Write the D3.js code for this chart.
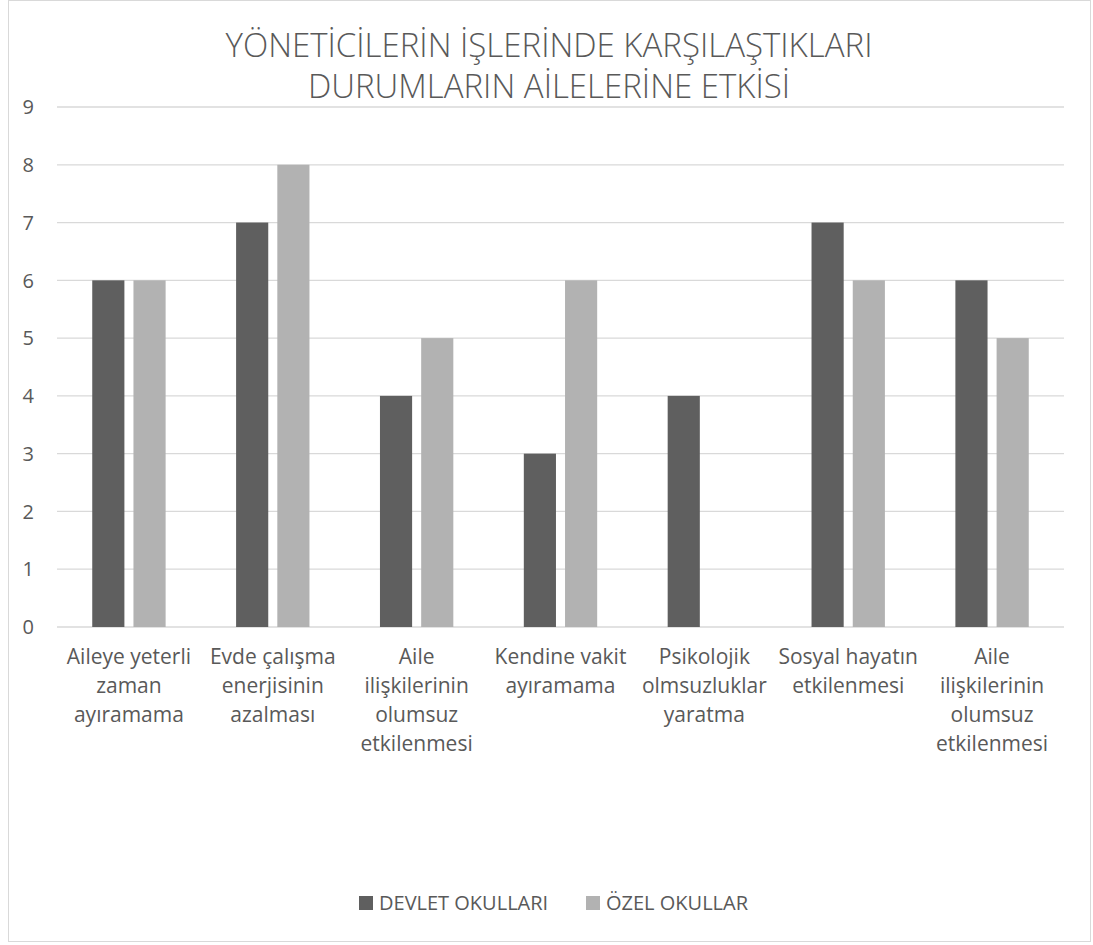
<!DOCTYPE html>
<html><head><meta charset="utf-8">
<script src="https://cdn.jsdelivr.net/npm/d3@7"></script>
<style>body{margin:0;background:#fff;} svg{display:block;font-family:"Open Sans",sans-serif;}</style>
</head><body><svg id="c" width="1093" height="945"></svg>
<script>
const categories = [
  "Aileye yeterli\nzaman\nayıramama",
  "Evde çalışma\nenerjisinin\nazalması",
  "Aile\nilişkilerinin\nolumsuz\netkilenmesi",
  "Kendine vakit\nayıramama",
  "Psikolojik\nolmsuzluklar\nyaratma",
  "Sosyal hayatın\netkilenmesi",
  "Aile\nilişkilerinin\nolumsuz\netkilenmesi"
];
const seriesNames = ["DEVLET OKULLARI", "ÖZEL OKULLAR"];
const devlet = [6, 7, 4, 3, 4, 7, 6];
const ozel = [6, 8, 5, 6, 0, 6, 5];
const yTicks = [0,1,2,3,4,5,6,7,8,9];
const titleLines = ["YÖNETİCİLERİN İŞLERİNDE KARŞILAŞTIKLARI", "DURUMLARIN AİLELERİNE ETKİSİ"];
const colors = ["#5f5f5f", "#b2b2b2"];

(function(){
const svg = d3.select("#c");
svg.append("rect").attr("x",8.5).attr("y",0.5).attr("width",1082).attr("height",941)
  .attr("fill","#fff").attr("stroke","#d9d9d9");

const pL = 57, pR = 1064, pT = 107, pB = 627;
const y = d3.scaleLinear().domain([0,9]).range([pB, pT]);
const x0 = d3.scaleBand().domain(d3.range(categories.length)).range([pL,pR])
  .paddingInner(0.49).paddingOuter(0.245);
const x1 = d3.scaleBand().domain([0,1]).range([0, x0.bandwidth()]).paddingInner(0.22);

svg.append("g").selectAll("line").data(yTicks).join("line")
  .attr("x1",pL).attr("x2",pR).attr("y1",d=>y(d)).attr("y2",d=>y(d))
  .attr("stroke","#d9d9d9").attr("stroke-width",1.3);

svg.append("g").selectAll("text").data(yTicks).join("text")
  .attr("x",34).attr("y",d=>y(d)).attr("dy","0.36em").attr("text-anchor","end")
  .attr("font-size",20).attr("fill","#595959").text(d=>d);

const series = [devlet, ozel];
series.forEach((vals, si) => {
  svg.append("g").selectAll("rect").data(vals).join("rect")
    .attr("x",(d,i)=>x0(i)+x1(si)).attr("width",x1.bandwidth())
    .attr("y",d=>y(d)).attr("height",d=>y(0)-y(d)).attr("fill",colors[si]);
});

categories.forEach((c,i) => {
  const t = svg.append("text").attr("text-anchor","middle").attr("font-size",21).attr("fill","#595959");
  c.split("\n").forEach((ln,j) => {
    t.append("tspan").attr("x", x0(i)+x0.bandwidth()/2).attr("y", 664 + j*29).text(ln);
  });
});

titleLines.forEach((ln,j)=>{
  svg.append("text").attr("x",549).attr("y",57+j*41).attr("text-anchor","middle")
    .attr("font-size",33).attr("font-weight",300).attr("fill","#595959").text(ln);
});

const lx = [359, 586];
seriesNames.forEach((n,i)=>{
  svg.append("rect").attr("x",lx[i]).attr("y",896).attr("width",14).attr("height",14).attr("fill",colors[i]);
  svg.append("text").attr("x",lx[i]+20).attr("y",910).attr("font-size",20).attr("fill","#595959").text(n);
});
})();
</script></body></html>
